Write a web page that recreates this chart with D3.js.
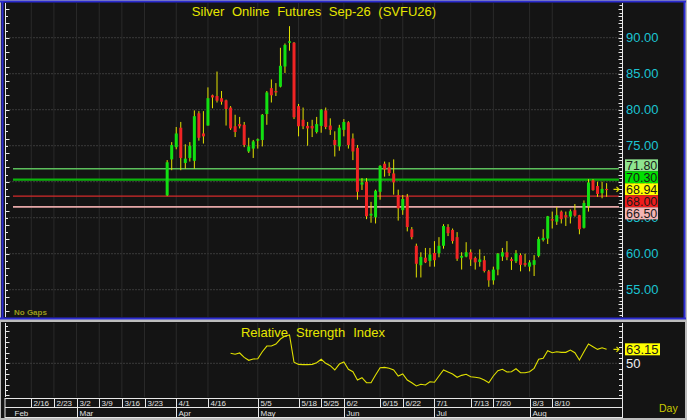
<!DOCTYPE html>
<html><head><meta charset="utf-8">
<script src="https://cdn.jsdelivr.net/npm/d3@7"></script>
<style>html,body{margin:0;padding:0;background:#141414;overflow:hidden}</style>
</head><body><svg id="c" width="687" height="420"></svg>
<script>
// ---------------- data ----------------
const chartTitle = "Silver Online Futures Sep-26 (SVFU26)";
const rsiTitle = "Relative Strength Index";
const opens  = [68.1,73.1,74.8,77.5,72.6,73.3,72.9,79.5,76.7,77.8,82.0,81.9,81.6,81.3,80.3,77.7,78.0,77.9,74.2,74.6,
  75.7,75.8,79.4,83.0,82.6,83.2,86.0,89.3,89.3,80.5,78.6,77.75,77.75,76.9,77.75,79.9,77.8,75.8,74.9,77.2,
  78.25,76.0,74.7,69.6,70.0,65.3,65.05,68.6,72.5,72.0,71.15,68.15,66.05,67.9,63.4,61.1,58.4,59.45,59.0,60.1,
  60.05,61.1,63.7,63.3,62.3,59.45,59.6,60.2,59.4,58.85,59.1,57.55,56.3,57.8,59.6,60.2,59.25,58.95,59.8,58.7,
  58.2,58.45,59.7,61.9,62.1,64.8,64.45,65.85,65.35,65.15,66.05,65.35,63.6,66.6,70.2,69.4,68.4,69.0];
const highs  = [73.0,75.5,77.6,78.3,75.2,75.5,79.9,79.8,79.8,83.1,82.1,85.3,82.6,81.4,80.5,79.3,79.0,78.3,76.1,75.8,
  76.0,79.4,82.6,84.2,83.7,88.6,89.2,91.6,89.4,80.8,80.3,78.3,78.6,79.0,80.1,80.3,78.8,77.0,77.9,78.7,
  78.4,76.7,75.1,70.5,70.5,67.2,68.9,72.3,72.8,72.7,73.1,68.9,68.15,68.3,63.7,61.4,60.2,60.8,60.8,61.75,
  62.3,64.1,64.1,63.5,63.0,60.2,61.6,60.6,59.6,60.6,59.7,57.75,58.2,60.1,60.8,61.75,59.5,60.5,60.05,60.0,
  59.1,59.8,62.35,63.4,65.25,65.85,66.5,66.0,65.85,66.15,66.9,65.4,67.4,70.35,70.35,70.0,70.0,69.8];
const lows   = [68.0,71.6,74.5,71.6,71.8,72.8,71.8,75.7,75.3,77.8,80.2,81.0,80.7,77.8,77.2,76.2,77.4,74.8,74.0,73.3,
  74.6,74.9,77.9,81.0,81.9,83.1,85.1,88.2,78.7,76.3,77.3,75.0,76.2,76.7,76.8,77.3,76.5,73.5,74.3,76.3,
  74.6,73.0,67.5,68.85,64.8,64.3,64.2,67.5,70.7,70.8,68.2,64.6,65.4,63.1,62.0,56.7,56.7,58.7,58.2,58.2,
  59.5,60.7,62.45,61.4,59.0,57.8,59.5,58.3,57.8,58.2,57.4,55.4,55.7,57.0,59.0,59.1,57.75,58.7,57.55,58.2,
  57.55,56.9,59.5,61.7,61.35,63.5,64.0,64.2,63.85,64.2,65.15,62.7,63.5,65.85,68.75,67.9,67.7,67.9];
const closes = [72.7,75.1,76.7,73.3,73.2,75.0,79.1,76.1,76.3,81.6,81.7,81.25,81.1,80.1,77.4,76.9,77.7,75.1,74.9,75.6,
  75.9,79.3,82.4,82.0,82.4,86.1,89.0,89.5,78.95,77.7,77.7,77.4,77.4,78.0,80.0,77.6,77.2,75.1,77.5,78.3,
  75.1,74.2,68.6,69.9,65.2,65.55,68.75,72.2,71.7,71.2,69.9,66.3,67.6,63.7,62.3,58.6,59.55,58.8,59.9,59.1,
  61.1,63.85,62.85,61.75,59.3,59.7,60.2,59.2,58.8,59.2,57.6,56.3,57.8,60.0,60.2,59.5,59.0,60.05,58.45,58.45,
  58.8,59.1,62.05,62.2,65.2,64.6,65.35,64.8,65.05,65.9,65.3,63.4,67.05,69.9,68.85,68.3,69.0,68.94];
const rsiValues = [null,null,null,null,null,null,null,null,null,null,null,null,null,null,
  59.4,58.5,59.7,55.6,52.8,54.0,54.3,60.9,66.2,66.2,68.1,72.8,75.6,76.6,51.0,49.0,
  48.8,48.8,49.0,50.5,53.8,50.0,47.8,43.7,49.3,51.2,44.4,42.1,34.3,36.5,31.8,31.8,39.0,45.9,46.2,45.3,
  43.7,38.1,40.0,34.3,31.8,28.7,30.3,29.6,32.7,32.2,38.1,43.7,41.8,40.0,36.9,38.7,39.7,37.4,36.9,36.2,
  34.3,31.8,38.1,43.1,44.4,41.8,42.1,44.9,41.2,41.2,42.1,45.3,53.8,54.7,61.8,60.0,60.9,60.3,60.3,62.5,
  60.0,53.1,60.9,68.1,65.6,63.1,64.6,63.15];
const weekLabels = ["2/16","2/23","3/2","3/9","3/16","3/23","4/1","4/16","5/5","5/18","5/25","6/2","6/15","6/22","7/1","7/13","7/20","8/3","8/10"];
const weekIdx    = [-30,-25,-20,-15,-10,-5,2,9,20,29,34,39,47,52,59,67,72,80,85];
const monthLabels = ["Feb","Mar","Apr","May","Jun","Jul","Aug"];
const monthIdx    = [-34.2,-20,2,20,39,59,80];
const priceTicks = [55,60,65,70,75,80,85,90];
const levelValues = [71.80,70.30,68.00,66.50];
const lastPrice = 68.94;
const lastRsi = 63.15;
const rsiTickLabel = 50;

// ---------------- drawing ----------------
const svg = d3.select("#c");
const W = 687, H = 420;
const x = d3.scaleLinear().domain([-35.8, 100.4]).range([5, 622]);
const y = d3.scaleLinear().domain([51.21, 94.82]).range([317, 3]);
const yr = d3.scaleLinear().domain([18.36, 88.8]).range([397, 322]);

const levelLine = {"71.8":"#5cbf5c","70.3":"#0cb40c","68":"#d42a2a","66.5":"#e6a8a8"};
const levelWidth = {"71.8":1.4,"70.3":2.2,"68":1.2,"66.5":1.6};
const levelBox = {"71.8":"#8fe48f","70.3":"#00e000","68":"#f01c1c","66.5":"#f4b4b4","last":"#ffff00"};

// frame
svg.append("rect").attr("width",W).attr("height",H).attr("fill","#bdbdbd");
svg.append("rect").attr("x",1).attr("y",1).attr("width",684).attr("height",317).attr("fill","#141414");
svg.append("rect").attr("x",1).attr("y",322).attr("width",684).attr("height",96).attr("fill","#141414");
const blue = "#2b2bd0";
svg.append("line").attr("x1",0).attr("x2",686).attr("y1",1.5).attr("y2",1.5).attr("stroke",blue).attr("stroke-width",2);
svg.append("line").attr("x1",2.5).attr("x2",2.5).attr("y1",1).attr("y2",318).attr("stroke",blue).attr("stroke-width",2);
svg.append("line").attr("x1",684.5).attr("x2",684.5).attr("y1",1).attr("y2",318).attr("stroke",blue).attr("stroke-width",2);
svg.append("line").attr("x1",0).attr("x2",686).attr("y1",318.5).attr("y2",318.5).attr("stroke",blue).attr("stroke-width",2);

// grid
const grid = svg.append("g");
priceTicks.forEach(v=>{
  grid.append("line").attr("x1",6).attr("x2",622).attr("y1",y(v)).attr("y2",y(v))
    .attr("stroke","#3a3a3a").attr("stroke-dasharray","2,1");
});
weekIdx.forEach(i=>{
  grid.append("line").attr("x1",x(i)).attr("x2",x(i)).attr("y1",3).attr("y2",317).attr("stroke","#2a2a2a");
  grid.append("line").attr("x1",x(i)).attr("x2",x(i)).attr("y1",323).attr("y2",397).attr("stroke","#2a2a2a");
});
grid.append("line").attr("x1",6).attr("x2",622).attr("y1",yr(50)).attr("y2",yr(50))
  .attr("stroke","#3a3a3a").attr("stroke-dasharray","2,1");

// level lines
levelValues.forEach(v=>{
  svg.append("line").attr("x1",13).attr("x2",619).attr("y1",y(v)).attr("y2",y(v))
    .attr("stroke",levelLine[String(v)]).attr("stroke-width",levelWidth[String(v)]);
});

// candles
const n = opens.length;
const cg = svg.append("g");
for(let i=0;i<n;i++){
  const o=opens[i], c=closes[i], h=highs[i], l=lows[i];
  cg.append("line").attr("x1",x(i)).attr("x2",x(i)).attr("y1",y(h)).attr("y2",y(l))
    .attr("stroke","#e2e200").attr("stroke-width",1);
  const top = y(Math.max(o,c)), bot = y(Math.min(o,c));
  cg.append("rect").attr("x",x(i)-1.5).attr("width",3).attr("y",top).attr("height",Math.max(1.2,bot-top))
    .attr("fill", c>=o ? "#12e012" : "#f02424");
}

// RSI line
const rsiPts = rsiValues.map((v,i)=>[i,v]).filter(d=>d[1]!==null);
svg.append("path").datum(rsiPts)
  .attr("d", d3.line().x(d=>x(d[0])).y(d=>yr(d[1])))
  .attr("fill","none").attr("stroke","#e0e000").attr("stroke-width",1.1);

// axes lines & ticks
const ax = svg.append("g").attr("stroke","#e8e8e8");
ax.append("line").attr("x1",5.5).attr("x2",5.5).attr("y1",3).attr("y2",317);
ax.append("line").attr("x1",622.5).attr("x2",622.5).attr("y1",3).attr("y2",317);
ax.append("line").attr("x1",5.5).attr("x2",5.5).attr("y1",323).attr("y2",397);
ax.append("line").attr("x1",622.5).attr("x2",622.5).attr("y1",323).attr("y2",418);
for(let v=52; v<=94; v+=1){
  const yy = Math.round(y(v))+0.5;
  ax.append("line").attr("x1",5.5).attr("x2", v%2===0 ? 9.5 : 8).attr("y1",yy).attr("y2",yy);
}
for(let v=51.5; v<=94.5; v+=0.5){
  const yy = Math.round(y(v))+0.5;
  ax.append("line").attr("x1", Number.isInteger(v) ? 618.5 : 619.5).attr("x2",622.5).attr("y1",yy).attr("y2",yy);
}
for(let v=20; v<=85; v+=5){
  const yy = Math.round(yr(v))+0.5;
  ax.append("line").attr("x1",5.5).attr("x2", v%10===0 ? 9.5 : 8).attr("y1",yy).attr("y2",yy);
  ax.append("line").attr("x1",619).attr("x2",622.5).attr("y1",yy).attr("y2",yy);
}

// price labels
const font = "'Liberation Sans', Arial, sans-serif";
priceTicks.forEach(v=>{
  svg.append("text").attr("x",626).attr("y",y(v)+4.6).text(v.toFixed(2))
    .attr("font-family",font).attr("font-size",13).attr("fill","#1cc4d2");
});

// stacked level boxes
const boxes = levelValues.map(v=>({v, key:String(v)}));
boxes.push({v:lastPrice, key:"last"});
boxes.sort((a,b)=>b.v-a.v);
boxes.forEach(b=>b.c=y(b.v));
const ai = boxes.findIndex(b=>b.key==="last");
for(let i=ai-1;i>=0;i--) boxes[i].c = Math.min(boxes[i].c, boxes[i+1].c-12);
for(let i=ai+1;i<boxes.length;i++) boxes[i].c = Math.max(boxes[i].c, boxes[i-1].c+12);
boxes.forEach(b=>{
  svg.append("rect").attr("x",625).attr("y",b.c-6).attr("width",33).attr("height",12).attr("fill",levelBox[b.key]);
  svg.append("text").attr("x",626).attr("y",b.c+4.4).text(b.v.toFixed(2))
    .attr("font-family",font).attr("font-size",12.5).attr("fill","#1a1a1a");
});

// last price arrows
function arrow(yy){
  svg.append("path").attr("d",`M613.5,${yy} L619,${yy} M616.5,${yy-2.5} L619,${yy} L616.5,${yy+2.5}`)
    .attr("fill","none").attr("stroke","#e0e000").attr("stroke-width",1.2);
}
arrow(y(lastPrice));
arrow(yr(lastRsi));

// RSI labels
svg.append("text").attr("x",626).attr("y",yr(rsiTickLabel)+4.6).text(String(rsiTickLabel))
  .attr("font-family",font).attr("font-size",13).attr("fill","#f0f0f0");
svg.append("rect").attr("x",625).attr("y",yr(lastRsi)-6).attr("width",35).attr("height",12).attr("fill","#ffff00");
svg.append("text").attr("x",626).attr("y",yr(lastRsi)+4.6).text(lastRsi.toFixed(2))
  .attr("font-family",font).attr("font-size",13).attr("fill","#1a1a1a");

// titles
svg.append("text").attr("x",314).attr("y",16).attr("text-anchor","middle").text(chartTitle)
  .attr("font-family",font).attr("font-size",13).attr("word-spacing",4).attr("fill","#e6e600");
svg.append("text").attr("x",313).attr("y",336.5).attr("text-anchor","middle").text(rsiTitle)
  .attr("font-family",font).attr("font-size",13).attr("word-spacing",4.5).attr("fill","#e6e600");
svg.append("text").attr("x",14).attr("y",315).text("No Gaps")
  .attr("font-family",font).attr("font-size",8).attr("font-weight","bold").attr("fill","#9a9a1a");

// bottom date axis
const da = svg.append("g");
da.append("line").attr("x1",5).attr("x2",622.5).attr("y1",398.5).attr("y2",398.5).attr("stroke","#e8e8e8");
da.append("line").attr("x1",5).attr("x2",622.5).attr("y1",407.5).attr("y2",407.5).attr("stroke","#e8e8e8");
da.append("line").attr("x1",5).attr("x2",622.5).attr("y1",417.5).attr("y2",417.5).attr("stroke","#e8e8e8");
da.append("line").attr("x1",5).attr("x2",5).attr("y1",398).attr("y2",418).attr("stroke","#e8e8e8");
weekIdx.forEach((i,k)=>{
  const xx = Math.round(x(i))+0.5;
  da.append("line").attr("x1",xx).attr("x2",xx).attr("y1",398.5).attr("y2",407.5).attr("stroke","#e8e8e8");
  da.append("text").attr("x",xx+2).attr("y",406).text(weekLabels[k])
    .attr("font-family",font).attr("font-size",8).attr("fill","#e0e0e0");
});
monthIdx.forEach((i,k)=>{
  const xx = Math.round(x(i))+0.5;
  if(k>0) da.append("line").attr("x1",xx).attr("x2",xx).attr("y1",407.5).attr("y2",417.5).attr("stroke","#e8e8e8");
  da.append("text").attr("x",xx+2).attr("y",415.5).text(monthLabels[k])
    .attr("font-family",font).attr("font-size",8).attr("fill","#e0e0e0");
});
svg.append("text").attr("x",659).attr("y",412).text("Day")
  .attr("font-family",font).attr("font-size",10.5).attr("fill","#caca00");
</script></body></html>
